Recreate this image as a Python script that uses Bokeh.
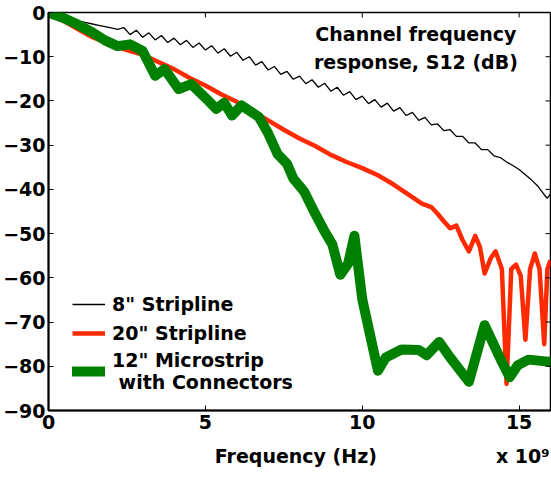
import math
from bokeh.plotting import figure
from bokeh.models import Range1d, Legend, LegendItem, Label, FixedTicker
from bokeh.embed import file_html
from bokeh.resources import INLINE

# 8" stripline (thin black)
freq_8in = [0.0, 0.2, 0.4, 0.6, 0.8, 1.0, 1.2, 1.4, 1.6, 1.8, 2.0, 2.2, 2.4, 2.6, 2.8,
            3.0, 3.2, 3.4, 3.6, 3.8, 4.0, 4.2, 4.4, 4.6, 4.8, 5.0, 5.2, 5.4, 5.6, 5.8,
            6.0, 6.2, 6.4, 6.6, 6.8, 7.0, 7.2, 7.4, 7.6, 7.8, 8.0, 8.2, 8.4, 8.6, 8.8,
            9.0, 9.2, 9.4, 9.6, 9.8, 10.0, 10.2, 10.4, 10.6, 10.8, 11.0, 11.2, 11.4, 11.6, 11.8,
            12.0, 12.2, 12.4, 12.6, 12.8, 13.0, 13.2, 13.4, 13.6, 13.8, 14.0, 14.2, 14.4, 14.6, 14.8,
            15.0, 15.2, 15.4, 15.6, 15.8, 15.9, 16.0]
s12_8in = [0.0, -0.4, -0.8, -1.2, -1.6, -2.0, -2.3, -2.6, -2.9, -3.2, -3.5, -3.8, -3.4, -5.0, -4.0,
           -5.6, -4.6, -6.2, -5.2, -6.8, -5.8, -7.3, -6.3, -7.9, -6.9, -8.5, -7.5, -9.2, -8.2, -9.9,
           -9.0, -10.8, -10.0, -11.9, -11.1, -13.0, -12.2, -14.0, -13.3, -15.1, -14.4, -16.1, -15.2, -16.9, -16.0,
           -17.8, -16.9, -18.7, -17.9, -19.7, -18.9, -20.6, -19.7, -21.4, -20.5, -22.3, -21.5, -23.3, -22.6, -24.4,
           -23.7, -25.4, -25.2, -26.7, -26.5, -28.0, -28.0, -29.5, -29.5, -31.0, -31.0, -32.4, -32.8, -33.8, -34.6,
           -35.5, -36.7, -37.9, -39.3, -41.2, -42.0, -41.0]

# 20" stripline (red)
freq_20in = [0.0, 0.5, 1.0, 1.4, 2.0, 2.5, 3.0, 3.5, 4.0, 4.5, 5.0, 5.5, 6.0, 6.5, 7.0,
             7.5, 8.0, 8.5, 9.0, 9.5, 10.0, 10.5, 11.0, 11.5, 11.9, 12.2, 12.4, 12.6, 12.8, 13.0,
             13.2, 13.4, 13.6, 13.75, 13.9, 14.1, 14.25, 14.45, 14.6, 14.75, 14.9, 15.05, 15.2, 15.35, 15.5,
             15.65, 15.8, 15.9, 16.0]
s12_20in = [0.0, -2.0, -4.0, -5.6, -7.3, -8.5, -9.5, -11.2, -12.8, -14.8, -16.5, -18.5, -20.2, -22.3, -24.4,
            -26.5, -28.5, -30.2, -32.2, -33.8, -35.2, -36.8, -38.9, -41.3, -43.2, -44.0, -45.5, -47.2, -48.8, -48.2,
            -51.5, -54.0, -50.5, -53.0, -59.0, -55.5, -54.0, -58.0, -84.0, -58.0, -57.0, -59.5, -74.0, -58.0, -54.5,
            -58.0, -75.0, -58.0, -56.0]

# 12" microstrip with connectors (thick green)
freq_12in = [0.0, 0.5, 0.9, 1.4, 1.8, 2.2, 2.6, 3.0, 3.4, 3.7, 4.15, 4.55, 5.1, 5.35, 5.6,
             5.85, 6.15, 6.7, 7.0, 7.3, 7.6, 7.8, 8.15, 8.5, 8.8, 9.05, 9.3, 9.55, 9.75, 10.0,
             10.5, 10.75, 11.25, 11.8, 12.05, 12.45, 12.8, 13.4, 13.9, 14.45, 14.7, 14.95, 15.3, 16.0]
s12_12in = [0.0, -1.3, -2.6, -4.5, -6.3, -7.6, -7.2, -8.7, -14.3, -12.8, -17.3, -16.2, -20.0, -21.8, -20.4,
            -23.3, -21.0, -23.6, -27.3, -32.0, -34.2, -37.5, -40.5, -45.5, -49.5, -52.5, -59.3, -56.8, -50.5, -64.8,
            -81.0, -78.0, -76.2, -76.3, -77.5, -74.5, -78.0, -83.5, -70.7, -79.0, -82.5, -79.8, -78.5, -79.0]

x_ticks = [0, 5, 10, 15]
y_ticks = [0, -10, -20, -30, -40, -50, -60, -70, -80, -90]
x_min, x_max = 0, 16
y_min, y_max = -90, 0
series_names = ['8" Stripline', '20" Stripline', '12" Microstrip\n with Connectors']
x_title = "Frequency (Hz)"
x_multiplier = "x 10\u2079"

FONT = "DejaVu Sans"
NBSP = "\u00a0"

p = figure(width=551, height=478, output_backend="svg", toolbar_location=None,
           x_range=Range1d(x_min, x_max), y_range=Range1d(y_min, y_max),
           min_border_left=46, min_border_right=1, min_border_top=12, min_border_bottom=68)
p.xgrid.visible = False
p.ygrid.visible = False
p.outline_line_color = "black"
p.outline_line_width = 1.5
p.outline_line_alpha = 1.0

r1 = p.line(freq_8in, s12_8in, line_color="black", line_width=1.3)
r2 = p.line(freq_20in, s12_20in, line_color="#ff2a00", line_width=4.5, line_join="round")
r3 = p.line(freq_12in, s12_12in, line_color="#008000", line_width=10, line_join="round", line_cap="round")

# inward ticks on the right and top edges of the box (half of each dash is clipped)
p.scatter([x_max] * len(y_ticks), y_ticks, marker="dash", size=10, line_color="black", line_width=1)
p.scatter(x_ticks, [y_max] * len(x_ticks), marker="dash", size=10, angle=math.pi / 2,
          line_color="black", line_width=1)

for ax in (p.xaxis[0], p.yaxis[0]):
    ax.axis_line_width = 2
    ax.axis_line_color = "black"
    ax.major_tick_in = 5
    ax.major_tick_out = 0
    ax.minor_tick_in = 0
    ax.minor_tick_out = 0
    ax.major_tick_line_width = 1
    ax.major_tick_line_color = "black"
    ax.major_label_text_font = FONT
    ax.major_label_text_font_style = "bold"
    ax.major_label_text_font_size = "19px"
    ax.major_label_text_color = "black"

p.xaxis.ticker = FixedTicker(ticks=x_ticks)
p.yaxis.ticker = FixedTicker(ticks=y_ticks)
p.xaxis.major_label_standoff = 4
p.yaxis.major_label_standoff = 3
# axis title and the "x 10^9" multiplier share the row below the tick labels;
# non-breaking spaces keep "Frequency (Hz)" centred where the reference has it
p.xaxis.axis_label = NBSP * 25 + x_title + NBSP * 18 + x_multiplier
p.xaxis.axis_label_text_font = FONT
p.xaxis.axis_label_text_font_style = "bold"
p.xaxis.axis_label_text_font_size = "19px"
p.xaxis.axis_label_text_color = "black"
p.xaxis.axis_label_standoff = 13

legend = Legend(items=[LegendItem(label=series_names[0], renderers=[r1]),
                       LegendItem(label=series_names[1], renderers=[r2]),
                       LegendItem(label=series_names[2], renderers=[r3])],
                location=(24, 17), border_line_alpha=0, background_fill_alpha=0,
                label_text_font=FONT, label_text_font_style="bold", label_text_font_size="19px",
                label_text_color="black", label_text_line_height=1.4,
                glyph_width=33, glyph_height=26, label_height=26, spacing=3,
                padding=0, margin=0, label_standoff=7)
p.add_layout(legend)

p.add_layout(Label(x=11.71, y=-2.4, text="Channel frequency\nresponse, S12 (dB)",
                   text_align="center", text_baseline="top", text_font=FONT, text_color="black",
                   text_font_style="bold", text_font_size="19px", text_line_height=1.25))

open("out.html", "w").write(file_html(p, INLINE))
